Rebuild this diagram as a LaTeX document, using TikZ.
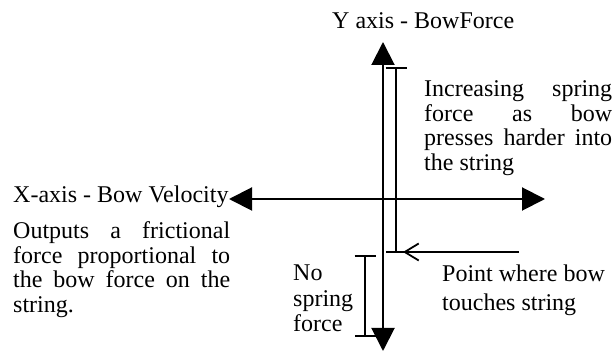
\documentclass[tikz,border=0pt]{standalone}
\usepackage{fontspec}
\setmainfont{Liberation Serif}
\usetikzlibrary{arrows.meta}
\begin{document}
\begin{tikzpicture}[x=1pt,y=-1pt,
  txt/.style={font=\fontsize{24}{24.5}\selectfont, inner sep=0pt, anchor=base west},
  axisline/.style={line width=2pt, {Triangle[length=23pt,width=23pt]}-{Triangle[length=23pt,width=23pt]}},
  bracketline/.style={line width=1.8pt, {Bar[width=21pt]}-{Bar[width=21pt]}},
  pointer/.style={line width=1.8pt, -{Straight Barb[length=14pt,width=17pt,line width=1.8pt]}},
]
\useasboundingbox (0,0) rectangle (614,352);
% texts
\node[txt] (ylab) at (332,29) {Y axis - BowForce};
\node[txt] (xlab) at (13,203) {X-axis - Bow Velocity};
\node[txt] (inc) at (424,97) {\parbox[t]{188pt}{\hyphenpenalty=10000\tolerance=10000
  Increasing spring\linebreak force as bow\linebreak presses harder into\linebreak the string}};
\node[txt] (out) at (13,239) {\parbox[t]{217pt}{\hyphenpenalty=10000\tolerance=10000
  Outputs a frictional\linebreak force proportional to\linebreak the bow force on the\linebreak string.}};
\node[txt] (nospr) at (293,281) {\parbox[t]{70pt}{\fontsize{24}{25.5}\selectfont\raggedright No\\spring\\force}};
\node[txt] (pt) at (442,282) {\parbox[t]{170pt}{\fontsize{24}{28.5}\selectfont\raggedright Point where bow\\touches string}};
% axes
\coordinate (ytop) at (383,42);
\coordinate (ybot) at (383,351);
\coordinate (xleft) at (229,199);
\coordinate (xright) at (545,199);
\draw[axisline] (ybot) -- (ytop);
\draw[axisline] (xleft) -- (xright);
% brackets
\coordinate (inctop) at (396,67);
\coordinate (incbot) at (396,253);
\draw[bracketline] (inctop) -- (incbot);
\coordinate (notop) at (365,255);
\coordinate (nobot) at (365,337);
\draw[bracketline] (notop) -- (nobot);
% pointer
\coordinate (pstart) at (519,252);
\draw[pointer] (pstart) -- ([xshift=7pt]incbot |- pstart);
\end{tikzpicture}
\end{document}
